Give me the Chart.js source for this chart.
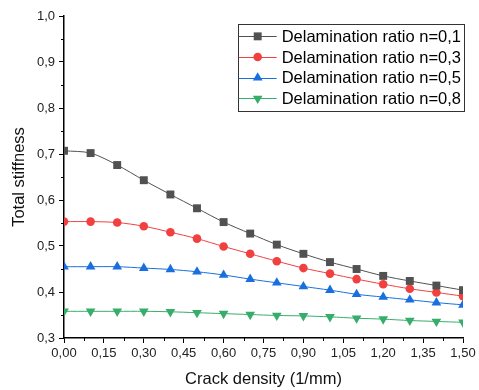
<!DOCTYPE html>
<html>
<head>
<meta charset="utf-8">
<script src="https://cdn.jsdelivr.net/npm/chart.js@4.4.1/dist/chart.umd.min.js"></script>
<style>
	html, body { margin: 0; padding: 0; background: #fff; }
	#wrap { width: 479px; height: 390px; }
</style>
</head>
<body>
<div id="wrap"><canvas id="stiffChart"></canvas></div>
<script>
// Data
const crackDensity = [0, 0.1, 0.2, 0.3, 0.4, 0.5, 0.6, 0.7, 0.8, 0.9, 1.0, 1.1, 1.2, 1.3, 1.4, 1.5];
const stiffN01 = [0.707, 0.702, 0.676, 0.643, 0.612, 0.582, 0.552, 0.527, 0.503, 0.483, 0.465, 0.450, 0.435, 0.424, 0.414, 0.404];
const stiffN03 = [0.553, 0.553, 0.551, 0.543, 0.530, 0.516, 0.499, 0.483, 0.467, 0.452, 0.440, 0.428, 0.417, 0.407, 0.399, 0.391];
const stiffN05 = [0.455, 0.455, 0.455, 0.452, 0.449, 0.444, 0.437, 0.428, 0.420, 0.412, 0.404, 0.395, 0.389, 0.383, 0.377, 0.372];
const stiffN08 = [0.358, 0.358, 0.358, 0.358, 0.357, 0.355, 0.353, 0.351, 0.349, 0.348, 0.346, 0.343, 0.341, 0.338, 0.336, 0.334];
const seriesLabels = [
	"Delamination ratio n=0,1",
	"Delamination ratio n=0,3",
	"Delamination ratio n=0,5",
	"Delamination ratio n=0,8",
];
const xTicks = [0, 0.15, 0.3, 0.45, 0.6, 0.75, 0.9, 1.05, 1.2, 1.35, 1.5];
const yTicks = [0.3, 0.4, 0.5, 0.6, 0.7, 0.8, 0.9, 1.0];

const FONT = "'Liberation Sans', Arial, sans-serif";

function toPoints(ys) {
	return crackDensity.map((x, i) => ({ x: x, y: ys[i] }));
}

function makeSet(label, ys, color, style, radius, rotation) {
	return {
		label: label,
		data: toPoints(ys),
		borderColor: color,
		backgroundColor: color,
		borderWidth: 1,
		pointStyle: style,
		pointRadius: radius,
		pointRotation: rotation || 0,
		pointBorderWidth: 0,
		pointBackgroundColor: color,
		tension: 0.3,
		clip: 0,
	};
}

// minor ticks halfway between the majors + boxed legend inside the plot
const extras = {
	id: "extras",
	afterDraw(chart) {
		const ctx = chart.ctx;
		const area = chart.chartArea;
		const xs = chart.scales.x;
		const ys = chart.scales.y;
		ctx.save();
		ctx.strokeStyle = "#000";
		ctx.lineWidth = 1;
		ctx.beginPath();
		for (let i = 0; i < xTicks.length - 1; i++) {
			const px = Math.round(xs.getPixelForValue((xTicks[i] + xTicks[i + 1]) / 2)) + 0.5;
			ctx.moveTo(px, area.bottom);
			ctx.lineTo(px, area.bottom + 3);
		}
		for (let i = 0; i < yTicks.length - 1; i++) {
			const py = Math.round(ys.getPixelForValue((yTicks[i] + yTicks[i + 1]) / 2)) + 0.5;
			ctx.moveTo(area.left, py);
			ctx.lineTo(area.left - 3, py);
		}
		ctx.stroke();

		// legend
		ctx.font = "16.5px " + FONT;
		const rowH = 20.7;
		const lineLen = 38;
		let textW = 0;
		chart.data.datasets.forEach((ds) => {
			textW = Math.max(textW, ctx.measureText(ds.label).width);
		});
		const boxW = 1 + lineLen + 5 + textW + 3;
		const boxH = rowH * chart.data.datasets.length + 4;
		const boxR = area.right + 1;
		const boxL = boxR - boxW;
		const boxT = area.top + 8;
		ctx.strokeStyle = "#333";
		ctx.lineWidth = 1;
		ctx.strokeRect(Math.round(boxL) + 0.5, Math.round(boxT) + 0.5, Math.round(boxW), Math.round(boxH));
		chart.data.datasets.forEach((ds, i) => {
			const cy = boxT + 2 + rowH * (i + 0.5);
			const lx = boxL + 1;
			ctx.strokeStyle = ds.borderColor;
			ctx.lineWidth = 1;
			ctx.beginPath();
			ctx.moveTo(lx, Math.round(cy) + 0.5);
			ctx.lineTo(lx + lineLen, Math.round(cy) + 0.5);
			ctx.stroke();
			ctx.fillStyle = ds.backgroundColor;
			Chart.helpers.drawPoint(ctx, {
				pointStyle: ds.pointStyle,
				radius: ds.pointRadius,
				rotation: ds.pointRotation,
				borderWidth: 0,
			}, lx + lineLen / 2, cy);
			ctx.fillStyle = "#000";
			ctx.textBaseline = "middle";
			ctx.textAlign = "left";
			ctx.fillText(ds.label, lx + lineLen + 5, cy + 1);
		});
		ctx.restore();
	},
};

const ctx = document.getElementById("stiffChart").getContext("2d");
const stiffChart = new Chart(ctx, {
	type: "line",
	data: {
		datasets: [
			makeSet(seriesLabels[0], stiffN01, "#515151", "rect", 5.6),
			makeSet(seriesLabels[1], stiffN03, "#F14040", "circle", 4.3),
			makeSet(seriesLabels[2], stiffN05, "#1A6FDF", "triangle", 5.6),
			makeSet(seriesLabels[3], stiffN08, "#37AD6B", "triangle", 5.6, 180),
		],
	},
	options: {
		responsive: true,
		maintainAspectRatio: false,
		animation: false,
		layout: {
			padding: { top: 16, right: 16, left: 0, bottom: 0 },
		},
		plugins: {
			legend: { display: false },
			tooltip: { enabled: false },
		},
		scales: {
			x: {
				type: "linear",
				min: 0,
				max: 1.5,
				afterFit: (scale) => { scale.height = 52; },
				afterBuildTicks: (scale) => { scale.ticks = xTicks.map((v) => ({ value: v })); },
				border: { color: "#000", width: 1.5 },
				grid: {
					drawOnChartArea: false,
					tickLength: 5,
					tickColor: "#000",
					tickWidth: 1,
				},
				ticks: {
					color: "#222",
					padding: 3,
					maxRotation: 0,
					font: { family: FONT, size: 13 },
					callback: (v) => Number(v).toFixed(2).replace(".", ","),
				},
				title: {
					display: true,
					text: "Crack density (1/mm)",
					color: "#111",
					font: { family: FONT, size: 16.5 },
					padding: { top: 0, bottom: 1 },
				},
			},
			y: {
				min: 0.3,
				max: 1.0,
				afterFit: (scale) => { scale.width = 64; },
				afterBuildTicks: (scale) => { scale.ticks = yTicks.map((v) => ({ value: v })); },
				border: { color: "#000", width: 1.5 },
				grid: {
					drawOnChartArea: false,
					tickLength: 5,
					tickColor: "#000",
					tickWidth: 1,
				},
				ticks: {
					color: "#222",
					padding: 4,
					font: { family: FONT, size: 13 },
					callback: (v) => Number(v).toFixed(1).replace(".", ","),
				},
				title: {
					display: true,
					text: "Total stiffness",
					color: "#111",
					font: { family: FONT, size: 16.5 },
					padding: { top: 10, bottom: 0 },
				},
			},
		},
	},
	plugins: [extras],
});
</script>
</body>
</html>
